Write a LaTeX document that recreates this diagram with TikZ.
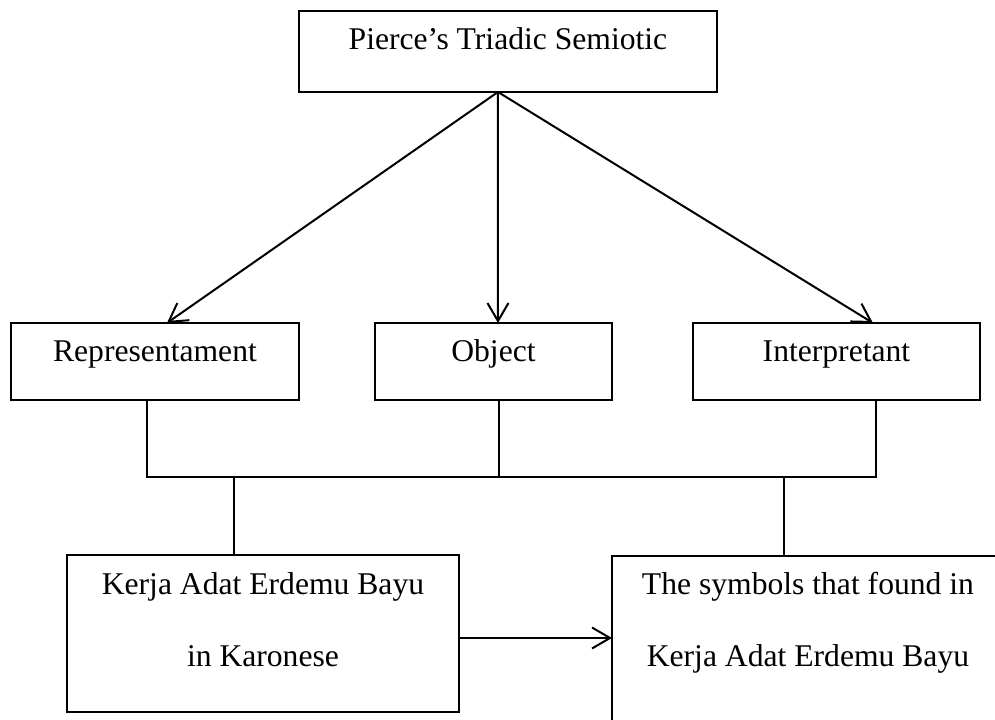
\documentclass[tikz,border=0pt]{standalone}
\usepackage{fontspec}
\setmainfont{Liberation Serif}
\usetikzlibrary{positioning}
\usetikzlibrary{arrows.meta}
\usetikzlibrary{calc}

\tikzset{
  box/.style={shape=rectangle, draw=black, line width=0.04cm, inner sep=0pt, outer sep=0pt, font=\fontsize{18}{22}\selectfont},
  onebox/.style={box, text height=0.78cm, text depth=0.76cm},
  words/.style={anchor=base, inner sep=0pt, font=\fontsize{18}{22}\selectfont},
  link/.style={line width=0.04cm},
  arr/.style={line width=0.04cm, -{Straight Barb[length=0.36cm, width=0.42cm, line width=0.04cm]}}
}

\begin{document}
\begin{tikzpicture}[x=0.02cm, y=-0.02cm]
    \useasboundingbox (0,0) rectangle (995,720);
    \clip (0,0) rectangle (995,720);

    % top box
    \node[onebox, minimum width=8.36cm, text depth=0.84cm, anchor=north west] (pierce) at (299,11) {Pierce’s Triadic Semiotic};

    % the three parts
    \node[onebox, minimum width=5.76cm, anchor=north west] (rep) at (11,323) {Representament};
    \node[onebox, minimum width=4.74cm, anchor=north west] (obj) at (375,323) {Object};
    \node[onebox, minimum width=5.74cm, anchor=north west] (int) at (693,323) {Interpretant};

    % bottom boxes
    \node[box, minimum width=7.84cm, minimum height=3.14cm, anchor=north west] (kerja) at (67,555) {};
    \node[words] (kerjaA) at ($(kerja.north)+(0,39)$) {Kerja Adat Erdemu Bayu};
    \node[words] (kerjaB) at ($(kerja.north)+(0,111)$) {in Karonese};

    \node[box, minimum width=7.84cm, minimum height=4cm, anchor=north west] (sym) at (612,556) {};
    \node[words] (symA) at ($(sym.north)+(0,38)$) {The symbols that found in};
    \node[words] (symB) at ($(sym.north)+(0,110)$) {Kerja Adat Erdemu Bayu};

    % arrows from the top
    \coordinate (apex) at ([xshift=-0.2cm]pierce.south);
    \draw[arr] (apex) -- ([xshift=0.24cm]rep.north);
    \draw[arr] (apex) -- ([xshift=0.09cm]obj.north);
    \draw[arr] (apex) -- ([xshift=0.73cm]int.north);

    % joining lines
    \coordinate (bus) at (0,477);
    \coordinate (repfoot) at ([xshift=-0.16cm]rep.south);
    \coordinate (objfoot) at ([xshift=0.11cm]obj.south);
    \coordinate (intfoot) at ([xshift=0.79cm]int.south);
    \coordinate (kerjahead) at ([xshift=-0.58cm]kerja.north);
    \coordinate (symhead) at ([xshift=-0.48cm]sym.north);

    \draw[link] (repfoot) -- (repfoot |- bus) -- (intfoot |- bus) -- (intfoot);
    \draw[link] (objfoot) -- (objfoot |- bus);
    \draw[link] (kerjahead) -- (kerjahead |- bus);
    \draw[link] (symhead) -- (symhead |- bus);

    \draw[arr] ([yshift=-0.09cm]kerja.east) -- ([yshift=-0.09cm]kerja.east -| sym.west);
\end{tikzpicture}
\end{document}
